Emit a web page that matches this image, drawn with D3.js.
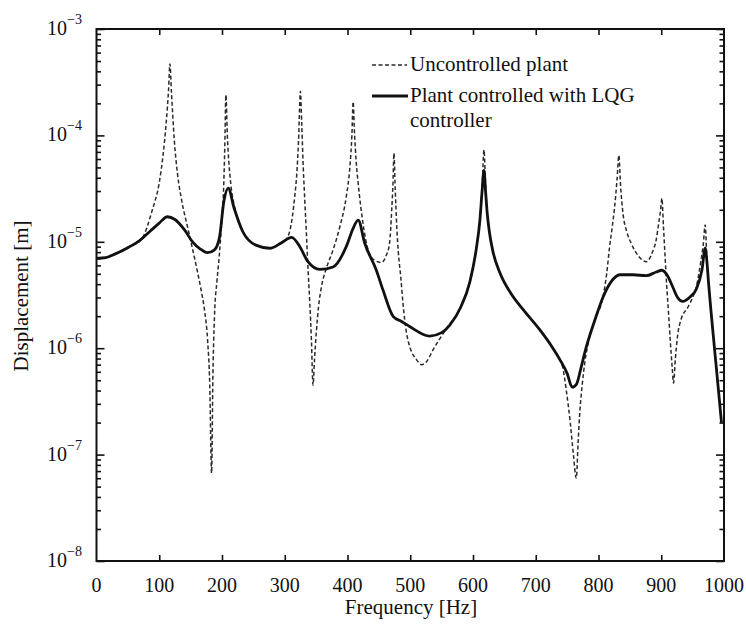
<!DOCTYPE html>
<html><head><meta charset="utf-8">
<script src="https://cdn.jsdelivr.net/npm/d3@7"></script>
<style>body{margin:0;background:#fff}</style>
</head><body>
<svg id="c" width="746" height="627"></svg>
<script>
// ---- data ----
const xTickValues = [0,100,200,300,400,500,600,700,800,900,1000];
const yTickExponents = [-8,-7,-6,-5,-4,-3];
const seriesNames = ["Uncontrolled plant", "Plant controlled with LQG", "controller"];
const xTitle = "Frequency [Hz]";
const yTitle = "Displacement [m]";

const uncFreq = [0,15,30,50,71,89,100,106,111,115,117,119.5,124,129,136,145,158,166,172,177,180.5,183.4,185.5,188,192,195.5,200,202.5,204.5,206.2,208.5,211,214,222,233,254,276,295,305,312,316,319,322,325,327,329.5,332,334.7,337.5,340,342.5,345,347.5,350.6,354,358.6,367,377,388,398,404,407,409,411,414,417,425,432.8,443,454,462,467,470.5,472.5,474,476,478.5,481,485,488.5,494,500,510,518,527,536,548,560,565,580,595,605,611,614.5,617.5,620,622.5,626,632,643,660,680,706,725,738,743,748.7,755,760,764.6,767.5,770,774,778,786,795,807,813,817.7,822,825.6,829.5,832.5,835,839,845,852,864,876,886,892,896,899,901,903.5,906,908.5,911.5,914.5,917.5,919.6,922.5,926,932,942,950,956,963,967,970,973,975,982,989,996];
const uncDisp = [7.0e-6,7.1e-6,7.7e-6,8.9e-6,1.04e-5,2.0e-5,3.6e-5,6.5e-5,1.3e-4,2.8e-4,4.7e-4,2.5e-4,9e-5,4.4e-5,2.4e-5,1.39e-5,6.3e-6,3.7e-6,2.3e-6,1.2e-6,4.5e-7,6.7e-8,5.5e-7,1.98e-6,4.3e-6,7.2e-6,1.7e-5,3.1e-5,8e-5,2.4e-4,1.0e-4,5.5e-5,3.5e-5,1.9e-5,1.25e-5,9.3e-6,8.7e-6,9.8e-6,1.12e-5,1.7e-5,2.7e-5,4.2e-5,9e-5,2.6e-4,1.3e-4,5.0e-5,2.4e-5,1.12e-5,5.0e-6,2.6e-6,1.2e-6,4.5e-7,8e-7,1.48e-6,2.5e-6,3.8e-6,5.8e-6,8.4e-6,1.4e-5,2.65e-5,5.2e-5,1.0e-4,2.07e-4,1.1e-4,5.5e-5,3.55e-5,1.45e-5,8.4e-6,6.7e-6,6.4e-6,7.5e-6,9.7e-6,2.0e-5,3.6e-5,6.8e-5,3.2e-5,1.4e-5,8.0e-6,4.6e-6,2.6e-6,1.4e-6,1.0e-6,7.8e-7,7.0e-7,7.6e-7,9.6e-7,1.25e-6,1.6e-6,1.75e-6,2.4e-6,4.2e-6,8.4e-6,1.6e-5,3.2e-5,7.3e-5,3.5e-5,1.9e-5,1.25e-5,8.0e-6,5.1e-6,3.3e-6,2.3e-6,1.5e-6,1.05e-6,7.9e-7,6.6e-7,4.0e-7,2.0e-7,1.0e-7,6.0e-8,1.3e-7,2.4e-7,4.5e-7,7.2e-7,1.28e-6,1.9e-6,3.0e-6,5.0e-6,9e-6,1.4e-5,2.1e-5,3.8e-5,6.5e-5,3.5e-5,1.85e-5,1.25e-5,9.7e-6,7.3e-6,6.5e-6,8.0e-6,1.05e-5,1.5e-5,2.0e-5,2.56e-5,1.4e-5,7.5e-6,4.0e-6,2.2e-6,1.15e-6,6.5e-7,4.7e-7,8.0e-7,1.3e-6,1.9e-6,2.4e-6,3.0e-6,3.8e-6,6.5e-6,9.5e-6,1.44e-5,6.3e-6,4.4e-6,1.5e-6,5.5e-7,2.0e-7];

const ctrlFreq = [0,15,30,50,68,85,100,113,125,140,153,165,177,188,196,203,210,219,233,254,276,295,311,324,337,356,377,398,409,417,427.5,446,456.7,473,485,499,531,550,563,580,595,605,611,614.5,617.5,620,622.5,626,632,643,660,680,706,725,738,750,758,765,772,780,795,807,820,834,855,876,892,901,910,918,926,934,945,956,965,970,973,975,982,989,996];
const ctrlDisp = [7.0e-6,7.1e-6,7.7e-6,8.8e-6,1.02e-5,1.25e-5,1.5e-5,1.72e-5,1.62e-5,1.3e-5,1.0e-5,8.6e-6,7.9e-6,8.4e-6,1.1e-5,2.4e-5,3.2e-5,2.1e-5,1.25e-5,9.3e-6,8.7e-6,9.8e-6,1.1e-5,9.0e-6,6.5e-6,5.5e-6,5.8e-6,9.0e-6,1.34e-5,1.6e-5,9.7e-6,5.4e-6,3.5e-6,1.98e-6,1.8e-6,1.6e-6,1.3e-6,1.4e-6,1.65e-6,2.4e-6,4.2e-6,8.4e-6,1.6e-5,3.0e-5,4.7e-5,3.0e-5,1.9e-5,1.25e-5,8.0e-6,5.1e-6,3.3e-6,2.3e-6,1.5e-6,1.05e-6,7.9e-7,5.8e-7,4.3e-7,4.6e-7,6.5e-7,1.0e-6,1.9e-6,3.0e-6,4.2e-6,4.9e-6,4.9e-6,4.8e-6,5.2e-6,5.4e-6,4.8e-6,3.8e-6,3.0e-6,2.75e-6,3.0e-6,3.6e-6,5.5e-6,8.7e-6,6.3e-6,4.4e-6,1.5e-6,5.5e-7,2.0e-7];

// ---- chart ----
const svg = d3.select("#c");
const font = "'Liberation Serif','Times New Roman',serif";
const L = 96.5, R = 724, T = 29, B = 561;
const x = d3.scaleLinear().domain([0,1000]).range([L,R]);
const y = d3.scaleLog().domain([1e-8,1e-3]).range([B,T]);

const minorTicks = [];
yTickExponents.slice(0,-1).forEach(e => { for (let k=2;k<=9;k++) minorTicks.push(k*Math.pow(10,e)); });
const majorTicks = yTickExponents.map(e => Math.pow(10,e));

function styleAxis(g){ g.select(".domain").remove(); g.selectAll("line").attr("stroke","#111").attr("stroke-width",1.6); g.selectAll("text").remove(); }

svg.append("g").attr("transform",`translate(0,${B})`).call(d3.axisBottom(x).tickValues(xTickValues.slice(1,-1)).tickSize(-6)).call(styleAxis);
svg.append("g").attr("transform",`translate(0,${T})`).call(d3.axisTop(x).tickValues(xTickValues.slice(1,-1)).tickSize(-6)).call(styleAxis);
svg.append("g").attr("transform",`translate(${L},0)`).call(d3.axisLeft(y).tickValues(majorTicks).tickSize(-8)).call(styleAxis);
svg.append("g").attr("transform",`translate(${L},0)`).call(d3.axisLeft(y).tickValues(minorTicks).tickSize(-4.5)).call(styleAxis);
svg.append("g").attr("transform",`translate(${R},0)`).call(d3.axisRight(y).tickValues(majorTicks).tickSize(-8)).call(styleAxis);
svg.append("g").attr("transform",`translate(${R},0)`).call(d3.axisRight(y).tickValues(minorTicks).tickSize(-4.5)).call(styleAxis);

// lines
const line = d3.line().x(d=>x(d[0])).y(d=>y(d[1])).curve(d3.curveMonotoneX);
const uncData = uncFreq.map((f,i)=>[f,uncDisp[i]]);
const ctrlData = ctrlFreq.map((f,i)=>[f,ctrlDisp[i]]);
svg.append("path").attr("d",line(uncData)).attr("fill","none").attr("stroke","#2a2a2a").attr("stroke-width",1.5).attr("stroke-dasharray","4,2.5");
svg.append("path").attr("d",line(ctrlData)).attr("fill","none").attr("stroke","#111").attr("stroke-width",2.8).attr("stroke-linejoin","round");

// frame
svg.append("rect").attr("x",L).attr("y",T).attr("width",R-L).attr("height",B-T).attr("fill","none").attr("stroke","#111").attr("stroke-width",2);

// tick labels
svg.append("g").selectAll("text").data(xTickValues).join("text")
  .attr("x",d=>x(d)).attr("y",592).attr("text-anchor","middle")
  .attr("font-family",font).attr("font-size",20).attr("fill","#111").text(d=>d);
const yl = svg.append("g").selectAll("text").data(yTickExponents).join("text")
  .attr("x",82).attr("y",d=>y(Math.pow(10,d))+6).attr("text-anchor","end")
  .attr("font-family",font).attr("font-size",20).attr("fill","#111");
yl.append("tspan").text("10");
yl.append("tspan").attr("font-size",14).attr("dy",-11).text(d=>"\u2212"+Math.abs(d));

// axis titles
svg.append("text").attr("x",411).attr("y",614).attr("text-anchor","middle")
  .attr("font-family",font).attr("font-size",21).attr("fill","#111").text(xTitle);
svg.append("text").attr("transform","translate(28,296) rotate(-90)").attr("text-anchor","middle")
  .attr("font-family",font).attr("font-size",21).attr("fill","#111").text(yTitle);

// legend
svg.append("line").attr("x1",372).attr("x2",407).attr("y1",65).attr("y2",65).attr("stroke","#2a2a2a").attr("stroke-width",1.5).attr("stroke-dasharray","4,2.5");
svg.append("line").attr("x1",372).attr("x2",408).attr("y1",96).attr("y2",96).attr("stroke","#111").attr("stroke-width",2.8);
[[seriesNames[0],71],[seriesNames[1],102],[seriesNames[2],127]].forEach(([t,yy])=>{
  svg.append("text").attr("x",410).attr("y",yy).attr("font-family",font).attr("font-size",21).attr("fill","#111").text(t);
});
</script>
</body></html>
